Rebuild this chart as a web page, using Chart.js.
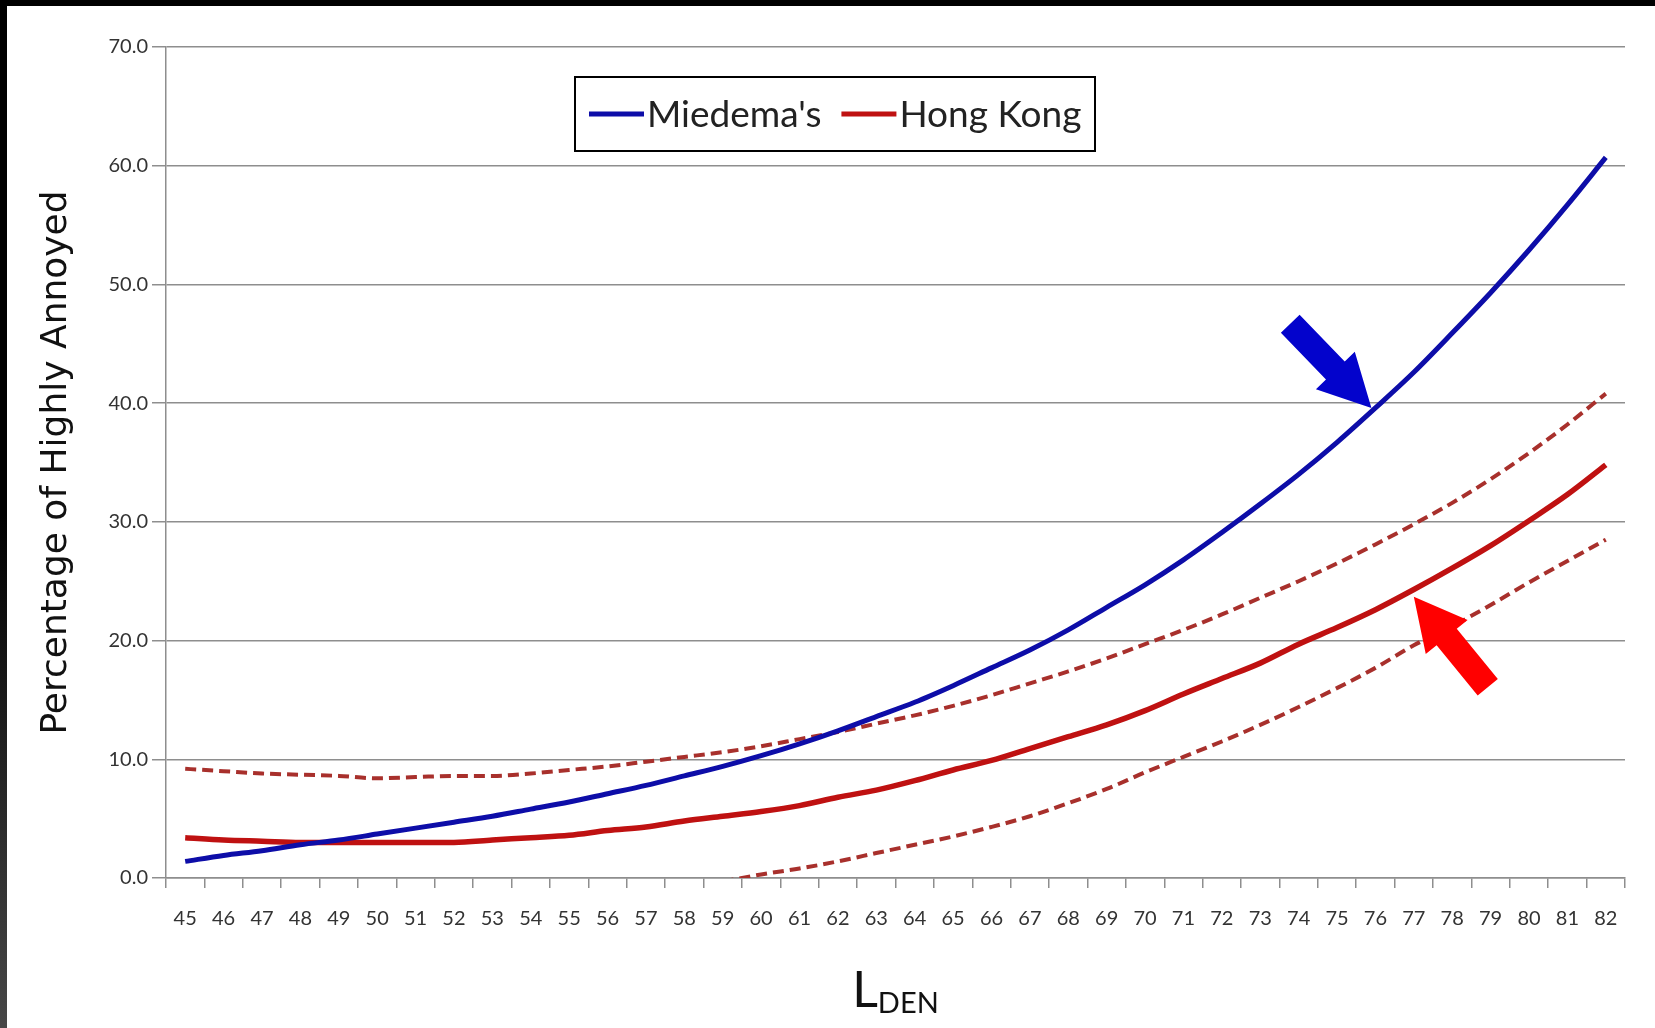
<!DOCTYPE html>
<html>
<head>
<meta charset="utf-8">
<title>Percentage of Highly Annoyed</title>
<script src="https://cdn.jsdelivr.net/npm/chart.js@4.4.1/dist/chart.umd.min.js"></script>
<style>
    body { margin: 0; background: #000; width: 1655px; height: 1028px; overflow: hidden; position: relative; }
    #band { position: absolute; left: 0; top: 0; width: 7px; height: 1028px; background: linear-gradient(#000 0%, #000 50%, #474747 100%); }
    #holder { position: absolute; left: 7px; top: 6px; width: 1648px; height: 1022px; background: #fff; }
</style>
</head>
<body>
<div id="band"></div>
<div id="holder"><canvas id="wykres" width="1648" height="1022"></canvas></div>

<script>
// L_DEN categories
var lden = [45, 46, 47, 48, 49, 50, 51, 52, 53, 54, 55, 56, 57, 58, 59, 60, 61, 62, 63,
            64, 65, 66, 67, 68, 69, 70, 71, 72, 73, 74, 75, 76, 77, 78, 79, 80, 81, 82];

var miedema = [1.4, 1.9, 2.3, 2.8, 3.2, 3.7, 4.2, 4.7, 5.2, 5.8, 6.4, 7.1, 7.8, 8.6, 9.4, 10.3, 11.3, 12.4, 13.6,
               14.8, 16.2, 17.7, 19.2, 20.9, 22.8, 24.7, 26.8, 29.1, 31.5, 34.0, 36.7, 39.6, 42.6, 45.9, 49.3, 52.9, 56.7, 60.7];

var hongKong = [3.4, 3.2, 3.1, 3.0, 3.0, 3.0, 3.0, 3.0, 3.2, 3.4, 3.6, 4.0, 4.3, 4.8, 5.2, 5.6, 6.1, 6.8, 7.4,
                8.2, 9.1, 9.9, 10.9, 11.9, 12.9, 14.1, 15.5, 16.8, 18.1, 19.7, 21.1, 22.6, 24.3, 26.1, 28.0, 30.1, 32.3, 34.8];

var hongKongUpper = [9.2, 9.0, 8.8, 8.7, 8.6, 8.4, 8.5, 8.6, 8.6, 8.8, 9.1, 9.4, 9.8, 10.2, 10.6, 11.1, 11.7, 12.3, 13.0,
                     13.7, 14.5, 15.4, 16.4, 17.4, 18.5, 19.7, 20.9, 22.2, 23.6, 25.0, 26.5, 28.1, 29.8, 31.6, 33.6, 35.8, 38.2, 40.8];

var hongKongLower = [null, null, null, null, null, null, null, null, null, null, null, null, null, null, -0.3, 0.3, 0.8, 1.4, 2.1,
                     2.8, 3.5, 4.3, 5.2, 6.3, 7.5, 8.9, 10.2, 11.5, 12.9, 14.4, 16.0, 17.7, 19.6, 21.2, 23.0, 24.9, 26.7, 28.5];

var blue = "#0d0da8";
var red = "#bf1111";
var dashRed = "#a8302c";
var gridGrey = "#8e8e8e";

// legend box drawn inside the plot area
var legendBox = {
    id: "legendBox",
    afterDraw: function (chart, args, opts) {
        var ctx = chart.ctx;
        ctx.save();
        ctx.fillStyle = "#fff";
        ctx.fillRect(opts.left, opts.top, opts.width, opts.height);
        ctx.strokeStyle = "#000";
        ctx.lineWidth = 2;
        ctx.strokeRect(opts.left, opts.top, opts.width, opts.height);
        ctx.font = opts.font;
        ctx.textBaseline = "middle";
        var x = opts.left + opts.padLeft;
        var y = opts.top + opts.height / 2;
        chart.data.datasets.forEach(function (ds) {
            if (!ds.label) return;
            ctx.strokeStyle = ds.borderColor;
            ctx.lineWidth = 5;
            ctx.beginPath();
            ctx.moveTo(x, y);
            ctx.lineTo(x + opts.lineLength, y);
            ctx.stroke();
            x += opts.lineLength + 3;
            ctx.fillStyle = "#222";
            ctx.fillText(ds.label, x, y + 1);
            x += ctx.measureText(ds.label).width + opts.itemGap;
        });
        ctx.restore();
    }
};

// block arrows pointing at the curves
var arrows = {
    id: "arrows",
    afterDatasetsDraw: function (chart, args, opts) {
        var ctx = chart.ctx, xs = chart.scales.x, ys = chart.scales.y;
        ctx.save();
        opts.items.forEach(function (a) {
            var tx = xs.getPixelForValue(lden.indexOf(a.at)) + a.shift;
            var ty = ys.getPixelForValue(a.value);
            var len = Math.hypot(a.dx, a.dy), ux = a.dx / len, uy = a.dy / len, nx = -uy, ny = ux;
            var hw = opts.headWidth / 2, sw = opts.shaftWidth / 2;
            var bx = tx + ux * opts.headLength, by = ty + uy * opts.headLength;
            var ex = tx + ux * opts.length, ey = ty + uy * opts.length;
            ctx.beginPath();
            ctx.moveTo(tx, ty);
            ctx.lineTo(bx + nx * hw, by + ny * hw);
            ctx.lineTo(bx + nx * sw, by + ny * sw);
            ctx.lineTo(ex + nx * sw, ey + ny * sw);
            ctx.lineTo(ex - nx * sw, ey - ny * sw);
            ctx.lineTo(bx - nx * sw, by - ny * sw);
            ctx.lineTo(bx - nx * hw, by - ny * hw);
            ctx.closePath();
            ctx.fillStyle = a.color;
            ctx.fill();
        });
        ctx.restore();
    }
};

// x axis title with subscript: L DEN
var xTitle = {
    id: "xTitle",
    afterDraw: function (chart, args, opts) {
        var ctx = chart.ctx, area = chart.chartArea;
        ctx.save();
        ctx.fillStyle = "#111";
        ctx.textBaseline = "alphabetic";
        ctx.font = opts.mainFont;
        var wMain = ctx.measureText(opts.main).width;
        ctx.font = opts.subFont;
        var wSub = ctx.measureText(opts.sub).width;
        var x0 = (area.left + area.right) / 2 - (wMain + wSub) / 2;
        var base = area.bottom + opts.offset;
        ctx.font = opts.mainFont;
        ctx.fillText(opts.main, x0, base);
        ctx.font = opts.subFont;
        ctx.fillText(opts.sub, x0 + wMain, base + 6);
        ctx.restore();
    }
};

var wykres = new Chart(document.getElementById("wykres").getContext("2d"), {
    type: "line",
    data: {
        labels: lden,
        datasets: [{
            label: "Miedema's",
            data: miedema,
            borderColor: blue,
            borderWidth: 5
        }, {
            label: "Hong Kong",
            data: hongKong,
            borderColor: red,
            borderWidth: 5.5
        }, {
            label: "",
            data: hongKongUpper,
            borderColor: dashRed,
            borderWidth: 4,
            borderDash: [11, 6]
        }, {
            label: "",
            data: hongKongLower,
            borderColor: dashRed,
            borderWidth: 4,
            borderDash: [11, 6]
        }]
    },
    options: {
        responsive: false,
        animation: false,
        elements: {
            point: { radius: 0 },
            line: { cubicInterpolationMode: "monotone" }
        },
        layout: { padding: { top: 41, right: 30, left: 0, bottom: 0 } },
        plugins: {
            legend: { display: false },
            tooltip: { enabled: false },
            legendBox: {
                left: 568, top: 71, width: 520, height: 74,
                padLeft: 14, lineLength: 55, itemGap: 20,
                font: "37px Lato"
            },
            arrows: {
                length: 117, headLength: 52, headWidth: 54, shaftWidth: 26,
                items: [
                    { at: 76, value: 39.6, shift: -4, dx: -80, dy: -83, color: "#0303cc" },
                    { at: 77, value: 23.7, shift: 0, dx: 75, dy: 92, color: "#ff0000" }
                ]
            },
            xTitle: {
                main: "L", sub: "DEN",
                mainFont: "50px Lato", subFont: "29px Lato",
                offset: 129
            }
        },
        scales: {
            x: {
                offset: true,
                grid: { offset: true, drawOnChartArea: false, color: gridGrey, lineWidth: 1.5, tickLength: 10 },
                border: { color: gridGrey, width: 1.5 },
                ticks: { color: "#333", font: { family: "Lato", size: 20 }, padding: 19, maxRotation: 0, autoSkip: false },
                afterFit: function (s) { s.height = 150; }
            },
            y: {
                min: 0,
                max: 70,
                ticks: {
                    stepSize: 10,
                    color: "#333",
                    font: { family: "Lato", size: 20 },
                    padding: 4,
                    callback: function (v) { return v.toFixed(1); }
                },
                grid: { color: gridGrey, lineWidth: 1.5, tickLength: 14 },
                border: { color: gridGrey, width: 1.5 },
                title: {
                    display: true,
                    text: "Percentage of Highly Annoyed",
                    color: "#111",
                    font: { family: "DejaVu Sans", size: 36 },
                    padding: { top: 28, bottom: 0 }
                },
                afterFit: function (s) { s.width = 159; }
            }
        }
    },
    plugins: [legendBox, arrows, xTitle]
});
</script>
</body>
</html>
